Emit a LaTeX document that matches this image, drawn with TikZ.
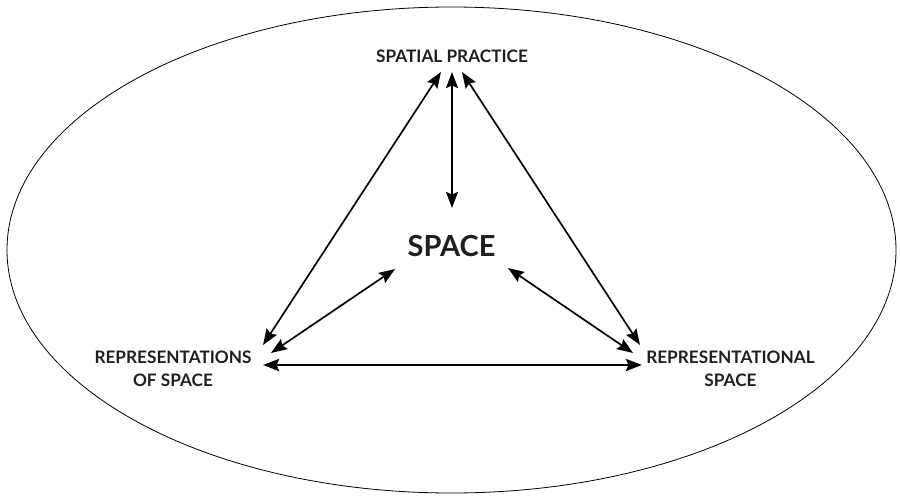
\documentclass[tikz,border=0pt]{standalone}
\usepackage{fontspec}
\setmainfont{Lato}
\usetikzlibrary{arrows.meta}
\begin{document}
\begin{tikzpicture}[x=1pt,y=-1pt,
  lbl/.style={font=\bfseries\fontsize{17.2}{23}\selectfont, align=center, inner sep=0pt, text=black!88},
  biglbl/.style={font=\bfseries\fontsize{29}{30}\selectfont, inner sep=0pt, text=black!88},
  arr/.style={{Stealth[length=16pt,width=12pt,inset=2.5pt]}-{Stealth[length=16pt,width=12pt,inset=2.5pt]}, line width=1.7pt},
  thickarr/.style={arr, line width=2.8pt}]
\useasboundingbox (0,0) rectangle (900,498);
\draw[line width=0.8pt] (451.5,250) ellipse [x radius=444.5, y radius=243];

\node[lbl] (sp) at (452,56) {SPATIAL PRACTICE};
\node[biglbl] (space) at (451.5,246) {SPACE};
\node[lbl] (ros) at (173,368.5) {REPRESENTATIONS\\OF SPACE};
\node[lbl] (rs) at (730.5,368.5) {REPRESENTATIONAL\\SPACE};

\coordinate (spL) at (441,72);
\coordinate (spM) at (452,72);
\coordinate (spR) at (462,72);
\coordinate (spaceT) at (452,208);
\coordinate (spaceL) at (395,269);
\coordinate (spaceR) at (508,268);
\coordinate (rosT) at (263,345);
\coordinate (rosM) at (271,353);
\coordinate (rosB) at (263,365);
\coordinate (rsT) at (640,345);
\coordinate (rsM) at (633,353);
\coordinate (rsB) at (642,365);

\draw[arr] (spL) -- (rosT);
\draw[arr] (spM) -- (spaceT);
\draw[arr] (spR) -- (rsT);
\draw[arr] (spaceL) -- (rosM);
\draw[arr] (spaceR) -- (rsM);
\draw[thickarr] (rosB) -- (rsB);
\end{tikzpicture}
\end{document}
